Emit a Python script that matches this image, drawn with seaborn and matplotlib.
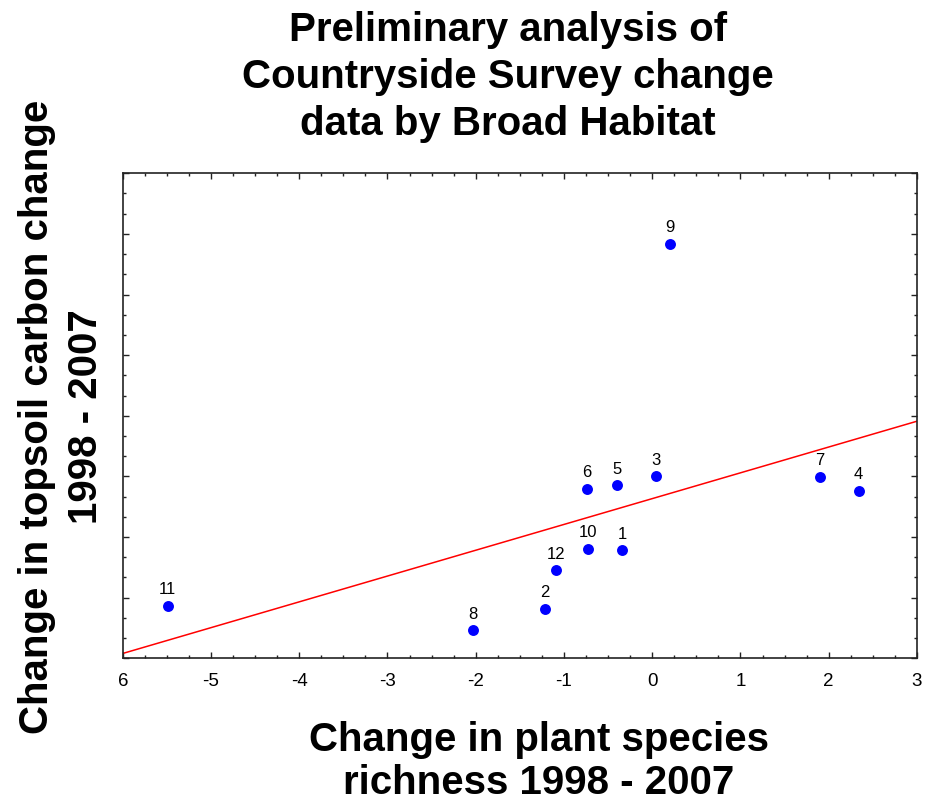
import matplotlib
matplotlib.use("Agg")
import matplotlib.pyplot as plt
import seaborn as sns
import pandas as pd
from matplotlib.ticker import MultipleLocator, FixedLocator

#------------------------------- DATA -------------------------------#
habitat = [11, 8, 2, 12, 10, 1, 6, 5, 3, 9, 7, 4]
richness_change = [-5.49, -2.03, -1.22, -1.09, -0.73, -0.34, -0.74, -0.40, 0.04, 0.20, 1.90, 2.34]
carbon_change = [0.86, 0.46, 0.81, 1.45, 1.80, 1.78, 2.79, 2.85, 3.00, 6.83, 2.99, 2.76]

x_ticks = [-6, -5, -4, -3, -2, -1, 0, 1, 2, 3]
x_tick_labels = ["6", "-5", "-4", "-3", "-2", "-1", "0", "1", "2", "3"]

df = pd.DataFrame({"habitat": habitat, "richness": richness_change, "carbon": carbon_change})

#------------------------------- STYLE -------------------------------#
sns.set_style("white")
plt.rcParams["font.family"] = ["Liberation Sans", "DejaVu Sans"]
plt.rcParams["text.color"] = "black"
plt.rcParams["axes.labelcolor"] = "black"
plt.rcParams["xtick.color"] = "black"
plt.rcParams["ytick.color"] = "black"

BLUE = "#0000ff"
RED = "#ff0000"

fig = plt.figure(figsize=(9.3, 8.03), dpi=100)
ax = fig.add_axes([0.132, 0.179, 0.854, 0.604])

ax.set_xlim(-6, 3)
ax.set_ylim(0, 8)

# regression line across the whole x range
sns.regplot(data=df, x="richness", y="carbon", scatter=False, ci=None, truncate=False,
            color=RED, line_kws={"linewidth": 1.1}, ax=ax)

sns.scatterplot(data=df, x="richness", y="carbon", color=BLUE, s=62, edgecolor=BLUE,
                linewidth=0, zorder=3, ax=ax)

for h, xv, yv in zip(habitat, richness_change, carbon_change):
    ax.annotate(str(h), (xv, yv), xytext=(0, 7), textcoords="offset points",
                ha="center", va="bottom", fontsize=12)

ax.set_xlim(-6, 3)
ax.set_ylim(0, 8)

ax.xaxis.set_major_locator(FixedLocator(x_ticks))
ax.set_xticklabels(x_tick_labels)
ax.xaxis.set_minor_locator(MultipleLocator(0.25))
ax.yaxis.set_major_locator(MultipleLocator(1))
ax.yaxis.set_minor_locator(MultipleLocator(1 / 3))
ax.tick_params(axis="both", which="both", direction="in", top=True, right=True,
               bottom=True, left=True, color="#222222")
ax.tick_params(axis="both", which="major", length=4, width=1)
ax.tick_params(axis="both", which="minor", length=2, width=1)
ax.tick_params(axis="x", labelsize=13.5, pad=10)
ax.tick_params(axis="y", labelleft=False)

for sp in ax.spines.values():
    sp.set_color("#222222")
    sp.set_linewidth(1.2)

ax.set_xlabel("Change in plant species\nrichness 1998 - 2007", fontsize=29,
              fontweight="bold", linespacing=1.15)
ax.xaxis.label.set_va("top")
ax.xaxis.set_label_coords(0.524, -0.128)

ax.set_ylabel("Change in topsoil carbon change\n1998 - 2007", fontsize=29,
              fontweight="bold", linespacing=1.38)
ax.yaxis.set_label_coords(-0.022, 0.5)

fig.text(0.546, 0.986, "Preliminary analysis of\nCountryside Survey change\ndata by Broad Habitat",
         ha="center", va="top", fontsize=29, fontweight="bold", linespacing=1.3)

fig.savefig("out.png", dpi=100)
